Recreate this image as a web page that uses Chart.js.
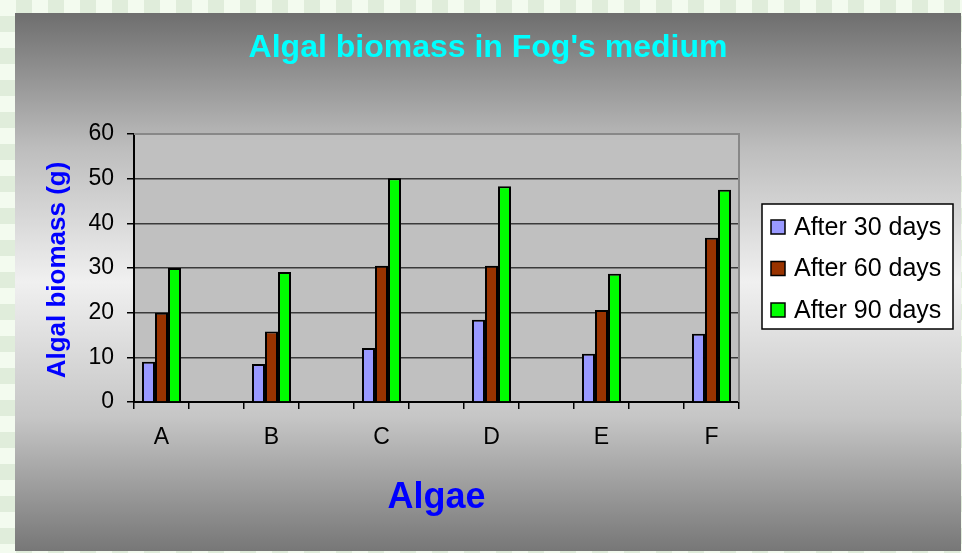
<!DOCTYPE html>
<html>
<head>
<meta charset="utf-8">
<script src="https://cdn.jsdelivr.net/npm/chart.js@4/dist/chart.umd.min.js"></script>
<style>
  html, body { margin: 0; padding: 0; }
  body {
    width: 962px; height: 553px; overflow: hidden; position: relative;
    background-color: #f3fbef;
    background-image: conic-gradient(#e0eddb 25%, #f3fbef 0 50%, #e0eddb 0 75%, #f3fbef 0);
    background-size: 32px 32px;
  }
  #wrap { position: absolute; left: 15px; top: 13px; width: 946px; height: 538px; }
</style>
</head>
<body>
<div id="wrap"><canvas id="algae" width="946" height="538"></canvas></div>
<script>
const ctx = document.getElementById('algae');

// 11 slots: every other one is an empty spacer, as in the original sheet
const categories = ["A", "", "B", "", "C", "", "D", "", "E", "", "F"];
const after30 = [9, null, 8.5, null, 12.1, null, 18.4, null, 10.8, null, 15.3];
const after60 = [20, null, 15.8, null, 30.5, null, 30.5, null, 20.6, null, 36.8];
const after90 = [30, null, 29.1, null, 50.1, null, 48.3, null, 28.7, null, 47.5];
const yTicks = [0, 10, 20, 30, 40, 50, 60];

const FONT = "'Liberation Sans', Arial, sans-serif";

const backdrop = {
  id: 'backdrop',
  beforeDraw(chart) {
    const c = chart.ctx, a = chart.chartArea;
    const g = c.createLinearGradient(0, 0, 0, chart.height);
    g.addColorStop(0, '#6e6e6e');
    g.addColorStop(0.25, '#bdbdbd');
    g.addColorStop(0.5, '#f0f0f0');
    g.addColorStop(0.75, '#c6c6c6');
    g.addColorStop(1, '#777777');
    c.save();
    c.fillStyle = g;
    c.fillRect(0, 0, chart.width, chart.height);
    c.fillStyle = '#c0c0c0';
    c.fillRect(a.left, a.top, a.right - a.left, a.bottom - a.top);
    c.restore();
  },
  beforeDatasetsDraw(chart) {
    const c = chart.ctx, a = chart.chartArea;
    c.save();
    c.strokeStyle = '#888888';
    c.lineWidth = 2;
    c.beginPath();
    c.moveTo(a.left, a.top);
    c.lineTo(a.right, a.top);
    c.lineTo(a.right, a.bottom);
    c.stroke();
    c.restore();
  }
};

const labelsPlugin = {
  id: 'labelsPlugin',
  afterDraw(chart) {
    const c = chart.ctx, a = chart.chartArea;
    c.save();
    // title
    c.fillStyle = '#00ffff';
    c.font = 'bold 32px ' + FONT;
    c.textAlign = 'center';
    c.textBaseline = 'middle';
    c.fillText("Algal biomass in Fog's medium", chart.width / 2, 35);
    // x title
    c.fillStyle = '#0000ff';
    c.font = 'bold 36px ' + FONT;
    c.fillText('Algae', (a.left + a.right) / 2, 485);
    // y title
    c.save();
    c.translate(43, 257);
    c.rotate(-Math.PI / 2);
    c.font = 'bold 26px ' + FONT;
    c.fillText('Algal biomass (g)', 0, 0);
    c.restore();
    // legend
    const bx = 747, by = 191, bw = 191, bh = 125;
    c.fillStyle = '#ffffff';
    c.fillRect(bx, by, bw, bh);
    c.strokeStyle = '#000000';
    c.lineWidth = 1.5;
    c.strokeRect(bx, by, bw, bh);
    c.font = '25px ' + FONT;
    c.textAlign = 'left';
    chart.data.datasets.forEach((ds, i) => {
      const cy = by + 23 + i * 41.5;
      c.fillStyle = ds.backgroundColor;
      c.fillRect(bx + 9, cy - 7, 14, 14);
      c.strokeStyle = '#000';
      c.lineWidth = 1.5;
      c.strokeRect(bx + 9, cy - 7, 14, 14);
      c.fillStyle = '#000';
      c.fillText(ds.label, bx + 32, cy + 1);
    });
    c.restore();
  }
};

new Chart(ctx, {
  type: 'bar',
  data: {
    labels: categories,
    datasets: [
      { label: 'After 30 days', data: after30, backgroundColor: '#9999ff' },
      { label: 'After 60 days', data: after60, backgroundColor: '#993300' },
      { label: 'After 90 days', data: after90, backgroundColor: '#00ff00' }
    ]
  },
  options: {
    responsive: false,
    animation: false,
    layout: { padding: { top: 121, right: 222, bottom: 89, left: 0 } },
    datasets: {
      bar: {
        borderColor: '#000000',
        borderWidth: 2,
        categoryPercentage: 0.71,
        barPercentage: 1.0,
        skipNull: false
      }
    },
    plugins: {
      legend: { display: false },
      title: { display: false },
      tooltip: { enabled: false }
    },
    scales: {
      x: {
        afterFit(scale) { scale.height = 60; },
        grid: { display: true, drawOnChartArea: false, offset: true, tickLength: 7, tickColor: '#000', lineWidth: 1.5 },
        border: { color: '#000', width: 2 },
        ticks: { color: '#000', font: { family: FONT, size: 23 }, padding: 15, autoSkip: false, maxRotation: 0 }
      },
      y: {
        min: 0,
        max: 60,
        afterFit(scale) { scale.width = 119; },
        afterBuildTicks(scale) { scale.ticks = yTicks.map(v => ({ value: v })); },
        grid: {
          color: c => c.tick && c.tick.value === 60 ? '#888888' : '#3a3a3a',
          lineWidth: 1.5,
          tickLength: 7,
          tickColor: '#000'
        },
        border: { color: '#000', width: 2 },
        ticks: { color: '#000', font: { family: FONT, size: 23 }, padding: 13 }
      }
    }
  },
  plugins: [backdrop, labelsPlugin]
});
</script>
</body>
</html>
